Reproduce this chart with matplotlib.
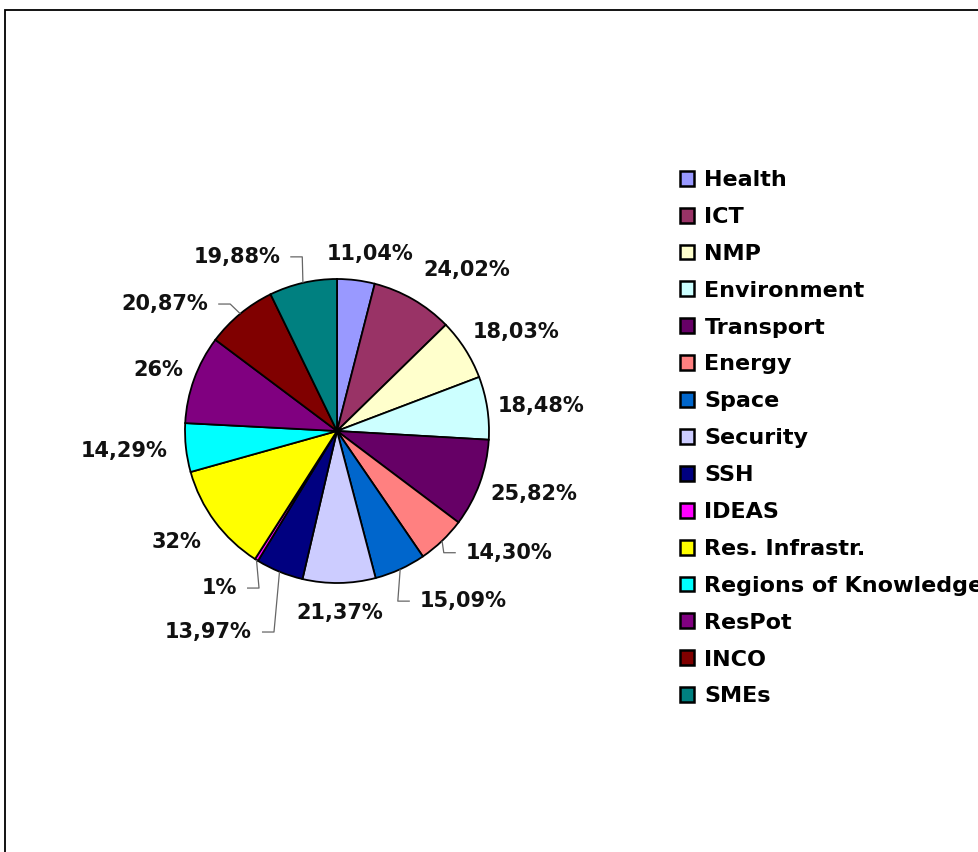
import numpy as np
import matplotlib
matplotlib.use("Agg")
import matplotlib.pyplot as plt
from matplotlib.patches import Rectangle

categories = ["Health", "ICT", "NMP", "Environment", "Transport", "Energy", "Space",
              "Security", "SSH", "IDEAS", "Res. Infrastr.", "Regions of Knowledge",
              "ResPot", "INCO", "SMEs"]
values = [11.04, 24.02, 18.03, 18.48, 25.82, 14.30, 15.09, 21.37, 13.97, 1, 32, 14.29, 26, 20.87, 19.88]
value_labels = ["11,04%", "24,02%", "18,03%", "18,48%", "25,82%", "14,30%", "15,09%",
                "21,37%", "13,97%", "1%", "32%", "14,29%", "26%", "20,87%", "19,88%"]
colors = ["#9999FF", "#993366", "#FFFFCC", "#CCFFFF", "#660066", "#FF8080", "#0066CC",
          "#CCCCFF", "#000080", "#FF00FF", "#FFFF00", "#00FFFF", "#800080", "#800000", "#008080"]

# label placement: distance (pie radii), angle shift (deg) from wedge middle, leader line
label_r = [1.12, 1.20, 1.107, 1.07, 1.089, 1.166, 1.245, 1.13, 1.436, 1.225, 1.15, 1.12, 1.09, 1.19, 1.205]
label_dang = [-4, 1.9, 3.5, 0, -2.3, 2.9, 1.4, 0, -0.7, -0.5, 2.9, 0.5, -1.7, 5.9, 5.1]
leader = [False, False, False, False, False, True, True, False, True, True, False, False, False, True, True]

plt.rcParams['font.family'] = ['DejaVu Sans']
W, H = 979, 852
fig = plt.figure(figsize=(W / 100, H / 100), dpi=100)

# outer frame
fig.patches.append(Rectangle((5 / W, -0.02), 1.05, 1 - 10 / H + 0.02, transform=fig.transFigure,
                             fill=False, edgecolor="black", linewidth=1.3))

cx, cy, R, S = 337, H - 431, 152, 300
ax = fig.add_axes([(cx - S) / W, (cy - S) / H, 2 * S / W, 2 * S / H])
wedges, _ = ax.pie(values, colors=colors, startangle=90, counterclock=False,
                   wedgeprops=dict(edgecolor="black", linewidth=1.3))
lim = S / R
ax.set_xlim(-lim, lim)
ax.set_ylim(-lim, lim)
ax.set_aspect("equal")
ax.axis("off")

for w, txt, r, da, ld in zip(wedges, value_labels, label_r, label_dang, leader):
    mid = np.deg2rad((w.theta1 + w.theta2) / 2)
    ang = mid + np.deg2rad(da)
    c, s = np.cos(ang), np.sin(ang)
    x, y = r * c, r * s
    if abs(c) < 0.2:
        ha = "center"
        va = "bottom" if s > 0 else "top"
    else:
        ha = "left" if c > 0 else "right"
        va = "center"
    if ld:
        sign = 1 if c > 0 else -1
        ex, ey = np.cos(mid), np.sin(mid)
        ax.plot([ex, x - sign * 0.145, x - sign * 0.066], [ey, y, y],
                color="#666666", linewidth=0.9, solid_capstyle="butt")
    ax.text(x, y, txt, ha=ha, va=va, fontsize=15, fontweight="bold", color="#111111")

leg = fig.legend(wedges, categories, loc="upper left",
                 bbox_to_anchor=(680 / W, 1 - 170 / H), bbox_transform=fig.transFigure,
                 frameon=False, prop=dict(weight="bold", size=16),
                 handlelength=0.65, handleheight=0.65, handletextpad=0.45,
                 labelspacing=0.76, borderpad=0, borderaxespad=0)
for h in leg.legend_handles:
    h.set_edgecolor("black")
    h.set_linewidth(1.8)

fig.savefig("out.png", dpi=100)
